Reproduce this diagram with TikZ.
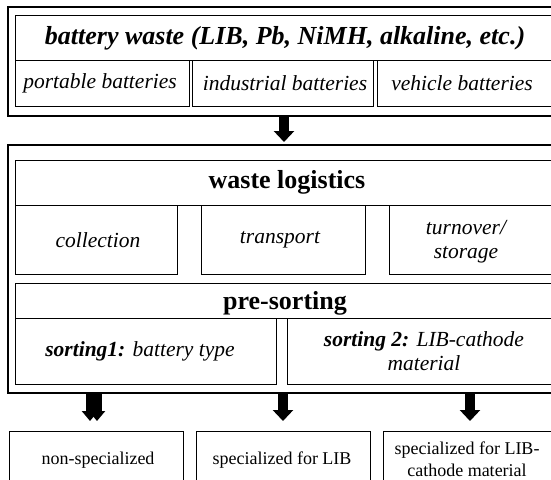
\documentclass[tikz,border=0pt]{standalone}
\usepackage{fontspec}
\setmainfont{Liberation Serif}
\usetikzlibrary{arrows.meta}
\begin{document}
\begin{tikzpicture}[x=1pt,y=-1pt,
  cellbox/.style={draw=black, line width=0.9pt, anchor=north west, inner sep=0pt, outer sep=0pt, fill=none},
  outerbox/.style={draw=black, line width=2.6pt, anchor=north west, inner sep=0pt, outer sep=0pt},
  ttl/.style={font=\fontsize{26}{30}\selectfont\bfseries\itshape, inner sep=0pt},
  hdr/.style={font=\fontsize{26}{30}\selectfont\bfseries, inner sep=0pt},
  itx/.style={font=\fontsize{21.5}{24}\selectfont\itshape, inner sep=0pt, align=center},
  rtx/.style={font=\fontsize{18}{22}\selectfont, inner sep=0pt, align=center},
  barrow/.style={line width=10pt, -{Triangle[width=20pt,length=11pt]}},
  narrow/.style={line width=9pt, -{Triangle[width=16pt,length=10pt]}}
]
\useasboundingbox (0,0) rectangle (551,479);
\clip (0,0) rectangle (551,479);
\fill[white] (0,0) rectangle (551,479);

% top block
\node[outerbox, minimum width=560pt, minimum height=109pt] (topouter) at (8,7) {};
\node[cellbox, minimum width=548pt, minimum height=44.5pt] (title) at (15,15.5) {};
\node[cellbox, minimum width=174pt, minimum height=46pt] (portable) at (15,60) {};
\node[cellbox, minimum width=181pt, minimum height=46pt] (industrial) at (192,60) {};
\node[cellbox, minimum width=190pt, minimum height=46pt] (vehicle) at (377,60) {};
\node[ttl] (titletxt) at (285,38) {battery waste (LIB, Pb, NiMH, alkaline, etc.)};
\node[itx] (portabletxt) at (100,83) {portable batteries};
\node[itx] (industrialtxt) at (285,83) {industrial batteries};
\node[itx] (vehicletxt) at (462,83) {vehicle batteries};

% middle block
\node[outerbox, minimum width=560pt, minimum height=248pt] (midouter) at (8,145) {};
\node[cellbox, minimum width=548pt, minimum height=45pt] (logist) at (15,160) {};
\node[cellbox, minimum width=162pt, minimum height=69pt] (collection) at (15,205) {};
\node[cellbox, minimum width=164pt, minimum height=69pt] (transport) at (201,205) {};
\node[cellbox, minimum width=178pt, minimum height=69pt] (turnover) at (389,205) {};
\node[cellbox, minimum width=548pt, minimum height=35pt] (presort) at (15,283) {};
\node[cellbox, minimum width=261pt, minimum height=66pt] (sortone) at (15,318) {};
\node[cellbox, minimum width=280pt, minimum height=66pt] (sorttwo) at (287,318) {};
\node[hdr] (logisttxt) at (287,182) {waste logistics};
\node[itx] (collectiontxt) at (98,240) {collection};
\node[itx] (transporttxt) at (280,240) {transport};
\node[itx] (turnovertxt) at (466,241.5) {turnover/\\storage};
\node[hdr] (presorttxt) at (285,303) {pre-sorting};
\node[itx] (sortonetxt) at (140,351) {\textbf{sorting1:} battery type};
\node[itx] (sorttwotxt) at (424,351) {\textbf{sorting 2:} LIB-cathode\\material};

% bottom boxes
\node[cellbox, minimum width=174pt, minimum height=60pt] (bone) at (9,431) {};
\node[cellbox, minimum width=174pt, minimum height=60pt] (btwo) at (196,431) {};
\node[cellbox, minimum width=184pt, minimum height=60pt] (bthree) at (383,431) {};
\node[rtx] (bonetxt) at (98,460) {non-specialized};
\node[rtx] (btwotxt) at (282,460) {specialized for LIB};
\node[rtx] (bthreetxt) at (467,459) {specialized for LIB-\\cathode material};

% arrows
\draw[barrow, shorten >=3pt] (topouter.south -| 284,0) -- (midouter.north -| 284,0);
\draw[narrow, shorten >=10pt] (midouter.south -| 90,0) -- (bone.north -| 90,0);
\draw[narrow, shorten >=10pt] (midouter.south -| 97,0) -- (bone.north -| 97,0);
\draw[barrow, shorten >=10pt] (midouter.south -| 283,0) -- (btwo.north -| 283,0);
\draw[barrow, shorten >=10pt] (midouter.south -| 470,0) -- (bthree.north -| 470,0);
\end{tikzpicture}
\end{document}
